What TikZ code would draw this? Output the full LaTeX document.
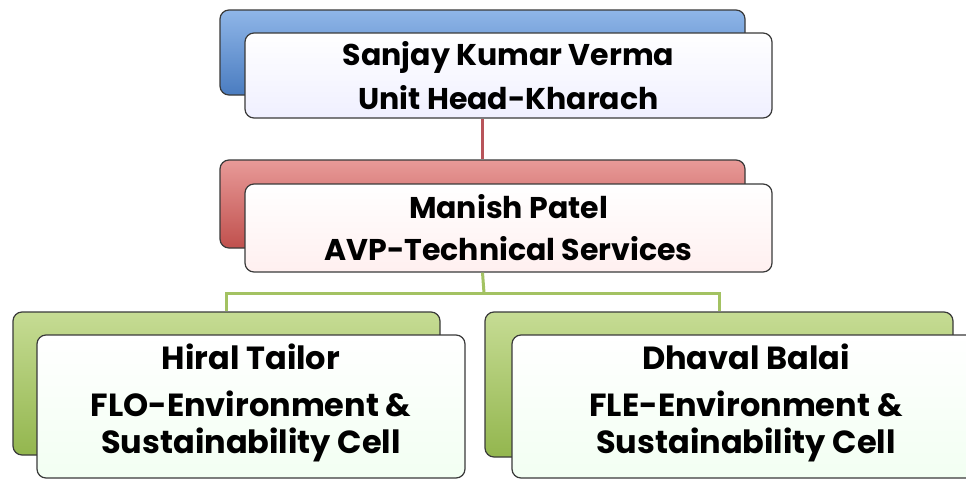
\documentclass[tikz,border=0pt]{standalone}
\usepackage{fontspec}
\setmainfont{Poppins}[BoldFont={* Bold}]
\definecolor{bluebase}{HTML}{4A7CC0}
\definecolor{bluelight}{HTML}{8FB6E8}
\definecolor{redbase}{HTML}{C0504D}
\definecolor{redlight}{HTML}{E89A98}
\definecolor{greenbase}{HTML}{93B64E}
\definecolor{greenlight}{HTML}{C6DC94}
\definecolor{edge}{HTML}{3A3A3A}
\definecolor{redline}{HTML}{B8545A}
\definecolor{greenline}{HTML}{A3C262}
\begin{document}
\begin{tikzpicture}[x=1pt,y=-1pt,
  backbox/.style={draw=edge,line width=1.2pt,rounded corners=9pt,inner sep=0pt},
  frontbox/.style={draw=edge,line width=1.2pt,rounded corners=9pt,inner sep=0pt,
    align=center,font=\fontsize{30}{36}\selectfont\bfseries},
  bigtext/.style={font=\fontsize{32}{37}\selectfont\bfseries},
  bluebk/.style={backbox,top color=bluelight,bottom color=bluebase},
  redbk/.style={backbox,top color=redlight,bottom color=redbase},
  greenbk/.style={backbox,top color=greenlight,bottom color=greenbase},
  bluefr/.style={frontbox,top color=white,bottom color=blue!6!white},
  redfr/.style={frontbox,top color=white,bottom color=red!6!white},
  greenfr/.style={frontbox,bigtext,top color=white,bottom color=green!5!white},
  redconn/.style={draw=redline,line width=2.4pt},
  greenconn/.style={draw=greenline,line width=3pt}]
\clip (0,0) rectangle (966,479);
\fill[white] (0,0) rectangle (966,479);
% top
\node[bluebk,minimum width=525pt,minimum height=85pt] (tb) at (482.5,52.5) {};
\node[bluefr,minimum width=527pt,minimum height=85pt] (t) at (508.5,75.5)
  {Sanjay Kumar Verma\\[8pt]Unit Head-Kharach};
% middle
\node[redbk,minimum width=525pt,minimum height=88pt] (mb) at (482.5,204) {};
\draw[redconn] (tb.south |- t.south) -- (mb.north);
\node[redfr,minimum width=527pt,minimum height=88pt] (m) at (508.5,228)
  {Manish Patel\\[6pt]AVP-Technical Services};
% bottom
\node[greenbk,minimum width=427pt,minimum height=143pt] (lb) at (226.5,383.5) {};
\node[greenbk,minimum width=468pt,minimum height=145pt] (rb) at (719,384.5) {};
\coordinate (bus) at (484,293);
\draw[greenconn] (mb.south |- m.south) -- (bus);
\draw[greenconn] (lb.north) |- (bus) -| (rb.north);
\node[greenfr,minimum width=428pt,minimum height=143pt] (l) at (251,406.5) {};
\node[bigtext,align=center,inner sep=0pt] (lt) at (251,402.5)
  {Hiral Tailor\\[10pt]FLO-Environment \&\\Sustainability Cell};
\node[greenfr,minimum width=468pt,minimum height=143pt] (r) at (746,406.5) {};
\node[bigtext,align=center,inner sep=0pt] (rt) at (746,402.5)
  {Dhaval Balai\\[10pt]FLE-Environment \&\\Sustainability Cell};
\end{tikzpicture}
\end{document}
